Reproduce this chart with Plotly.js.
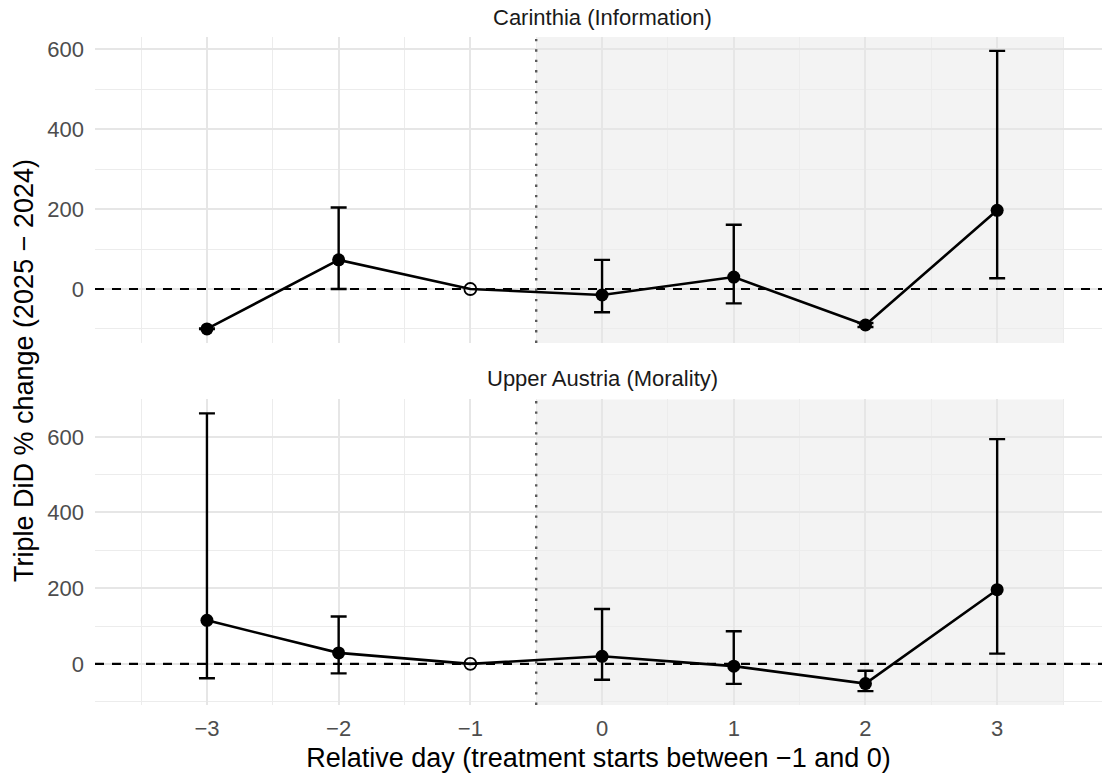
<!DOCTYPE html>
<html>
<head>
<meta charset="utf-8">
<script src="https://cdn.plot.ly/plotly-3.0.1.min.js"></script>
<style>html,body{margin:0;padding:0;background:#fff;}#chart{width:1102px;height:776px;}</style>
</head>
<body>
<div id="chart"></div>
<script>
// ---- data ----
const days = [-3, -2, -1, 0, 1, 2, 3];
const dayTickLabels = ["\u22123", "\u22122", "\u22121", "0", "1", "2", "3"];
const panelTitles = ["Carinthia (Information)", "Upper Austria (Morality)"];

const carinthiaEst   = [-100,  73, 0, -15,  30, -90, 197];
const carinthiaLower = [-100,   0, null, -58, -36, -95,  27];
const carinthiaUpper = [ -99, 204, null,  73, 161, -85, 596];

const upperAustriaEst   = [115,  29, 0,  20,  -6, -52, 196];
const upperAustriaLower = [-38, -25, null, -42, -53, -72,  27];
const upperAustriaUpper = [662, 125, null, 145,  86, -18, 594];

const yTickVals = [0, 200, 400, 600];
const treatmentStart = -0.5;
const treatmentEnd = 3.5;

// ---- build ----
const FONT = "Liberation Sans, Arial, Helvetica, sans-serif";

function panelTraces(est, lo, hi, xa, ya) {
  const out = [];
  out.push({x: days, y: est, mode: "lines", type: "scatter", xaxis: xa, yaxis: ya,
    line: {color: "#000", width: 2.6}, hoverinfo: "skip", showlegend: false});
  const fx = [], fy = [], eplus = [], eminus = [], ox = [], oy = [];
  for (let i = 0; i < days.length; i++) {
    if (lo[i] === null) { ox.push(days[i]); oy.push(est[i]); }
    else { fx.push(days[i]); fy.push(est[i]); eplus.push(hi[i] - est[i]); eminus.push(est[i] - lo[i]); }
  }
  out.push({x: fx, y: fy, mode: "markers", type: "scatter", xaxis: xa, yaxis: ya,
    marker: {color: "#000", size: 13, symbol: "circle"},
    error_y: {type: "data", symmetric: false, array: eplus, arrayminus: eminus,
      color: "#000", thickness: 2.4, width: 8},
    showlegend: false});
  out.push({x: ox, y: oy, mode: "markers", type: "scatter", xaxis: xa, yaxis: ya,
    marker: {color: "#000", size: 12, symbol: "circle-open", line: {color: "#000", width: 1.8}},
    showlegend: false});
  return out;
}

const data = [
  ...panelTraces(carinthiaEst, carinthiaLower, carinthiaUpper, "x", "y"),
  ...panelTraces(upperAustriaEst, upperAustriaLower, upperAustriaUpper, "x2", "y2")
];

function panelShapes(xa, ya) {
  return [
    {type: "rect", xref: xa, yref: ya + " domain", x0: treatmentStart, x1: treatmentEnd, y0: 0, y1: 1,
      fillcolor: "#F3F3F3", line: {width: 0}, layer: "below"},
    {type: "line", xref: xa + " domain", yref: ya, x0: 0, x1: 1, y0: 0, y1: 0,
      line: {color: "#000", width: 2.2, dash: "9px,8px"}, layer: "above"},
    {type: "line", xref: xa, yref: ya + " domain", x0: treatmentStart, x1: treatmentStart, y0: 0, y1: 1,
      line: {color: "#5a5a5a", width: 2.4, dash: "2.4px,8px"}, layer: "above"}
  ];
}

const xRange = [-3.85, 3.796];
const xCommon = {
  range: xRange, tickvals: days, ticktext: dayTickLabels, ticks: "", showline: false, zeroline: false,
  showgrid: true, gridcolor: "#E6E6E6", gridwidth: 2,
  minor: {tickvals: [-3.5, -2.5, -1.5, -0.5, 0.5, 1.5, 2.5, 3.5], showgrid: true, gridcolor: "#ECECEC", gridwidth: 1},
  tickfont: {family: FONT, size: 22, color: "#4D4D4D"}, fixedrange: true
};
const yCommon = {
  tickvals: yTickVals, ticks: "", showline: false, zeroline: false,
  showgrid: true, gridcolor: "#E6E6E6", gridwidth: 2,
  minor: {dtick: 100, tick0: 0, showgrid: true, gridcolor: "#ECECEC", gridwidth: 1},
  tickfont: {family: FONT, size: 22, color: "#4D4D4D"}, ticklabelstandoff: 10, fixedrange: true
};

const layout = {
  width: 1102, height: 776,
  margin: {l: 95, r: 0, t: 36.7, b: 71},
  paper_bgcolor: "#fff", plot_bgcolor: "rgba(0,0,0,0)",
  font: {family: FONT},
  showlegend: false,
  xaxis: Object.assign({}, xCommon, {anchor: "y", domain: [0, 1], showticklabels: false}),
  xaxis2: Object.assign({}, xCommon, {anchor: "y2", domain: [0, 1], ticklabelstandoff: 8,
    title: {text: "Relative day (treatment starts between \u22121 and 0)", font: {family: FONT, size: 27, color: "#000"}, standoff: 8}}),
  yaxis: Object.assign({}, yCommon, {anchor: "x", domain: [0.5421, 1], range: [-134.8, 630.8]}),
  yaxis2: Object.assign({}, yCommon, {anchor: "x2", domain: [0, 0.4574], range: [-108.7, 698.7]}),
  shapes: [...panelShapes("x", "y"), ...panelShapes("x2", "y2")],
  annotations: [
    {text: panelTitles[0], xref: "paper", yref: "paper", x: 0.5035, y: 1.0295, xanchor: "center", yanchor: "middle",
      showarrow: false, font: {family: FONT, size: 22, color: "#1A1A1A"}},
    {text: panelTitles[1], xref: "paper", yref: "paper", x: 0.5035, y: 0.4893, xanchor: "center", yanchor: "middle",
      showarrow: false, font: {family: FONT, size: 22, color: "#1A1A1A"}},
    {text: "Triple DiD % change (2025 \u2212 2024)", xref: "paper", yref: "paper", x: -0.0705, y: 0.5,
      xanchor: "center", yanchor: "middle", textangle: -90, showarrow: false,
      font: {family: FONT, size: 27, color: "#000"}}
  ]
};

Plotly.newPlot("chart", data, layout, {displayModeBar: false, staticPlot: true});
</script>
</body>
</html>
